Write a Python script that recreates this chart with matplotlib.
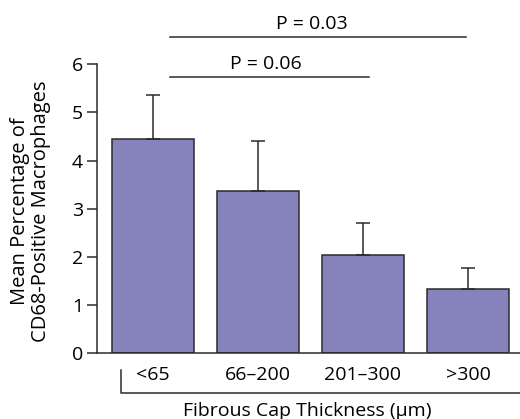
import matplotlib.pyplot as plt
import numpy as np

categories = ['<65', '66\u2013200', '201\u2013300', '>300']
means = [4.45, 3.37, 2.03, 1.33]
errors = [0.91, 1.03, 0.67, 0.45]

# significance brackets: (start, end, height, label)
sig_lines = [(0.16, 2.06, 5.73, 'P = 0.06'),
             (0.16, 2.98, 6.57, 'P = 0.03')]

plt.rcParams['font.family'] = ['Open Sans', 'DejaVu Sans']
plt.rcParams['font.size'] = 14

fig = plt.figure(figsize=(5.2, 4.19), dpi=100)
ax = fig.add_axes([0.1865, 0.1568, 0.8135, 0.8432])

x = np.arange(len(categories))
ax.bar(x, means, width=0.78, color='#8682bc', edgecolor='#2b2b2b', linewidth=1.1)
ax.errorbar(x, means, yerr=[np.zeros(len(errors)), errors], fmt='none',
            ecolor='#2b2b2b', elinewidth=1.1, capsize=5, capthick=1.1)

for x0, x1, h, txt in sig_lines:
    ax.plot([x0, x1], [h, h], color='#2b2b2b', lw=1.1, clip_on=False)
    ax.text((x0 + x1) / 2 - 0.02 * (x1 - x0), h + 0.08, txt, ha='center', va='bottom')

ax.set_xlim(-0.533, 3.495)
ax.set_ylim(0, 7.33)
ax.set_yticks(range(7))
ax.spines['left'].set_bounds(0, 6)
for s in ['top', 'right']:
    ax.spines[s].set_visible(False)
for s in ['left', 'bottom']:
    ax.spines[s].set_color('#2b2b2b')
    ax.spines[s].set_linewidth(1.1)
ax.tick_params(axis='y', length=7, width=1.1, color='#2b2b2b', pad=3)
ax.set_xticks(x)
ax.set_xticklabels(categories)
ax.tick_params(axis='x', length=0, pad=9)

# bracket below the category labels
tr = ax.get_xaxis_transform()
ax.plot([-0.305, -0.305, 3.495], [-0.047, -0.112, -0.112], color='#2b2b2b',
        lw=1.1, transform=tr, clip_on=False)

ax.set_xlabel('Fibrous Cap Thickness (\u03bcm)')
ax.xaxis.set_label_coords(0.496, -0.138)
ax.set_ylabel('Mean Percentage of\nCD68-Positive Macrophages', fontsize=14.5,
              linespacing=1.1)
ax.yaxis.set_label_coords(-0.108, 0.403)

fig.savefig('out.png', dpi=100)
